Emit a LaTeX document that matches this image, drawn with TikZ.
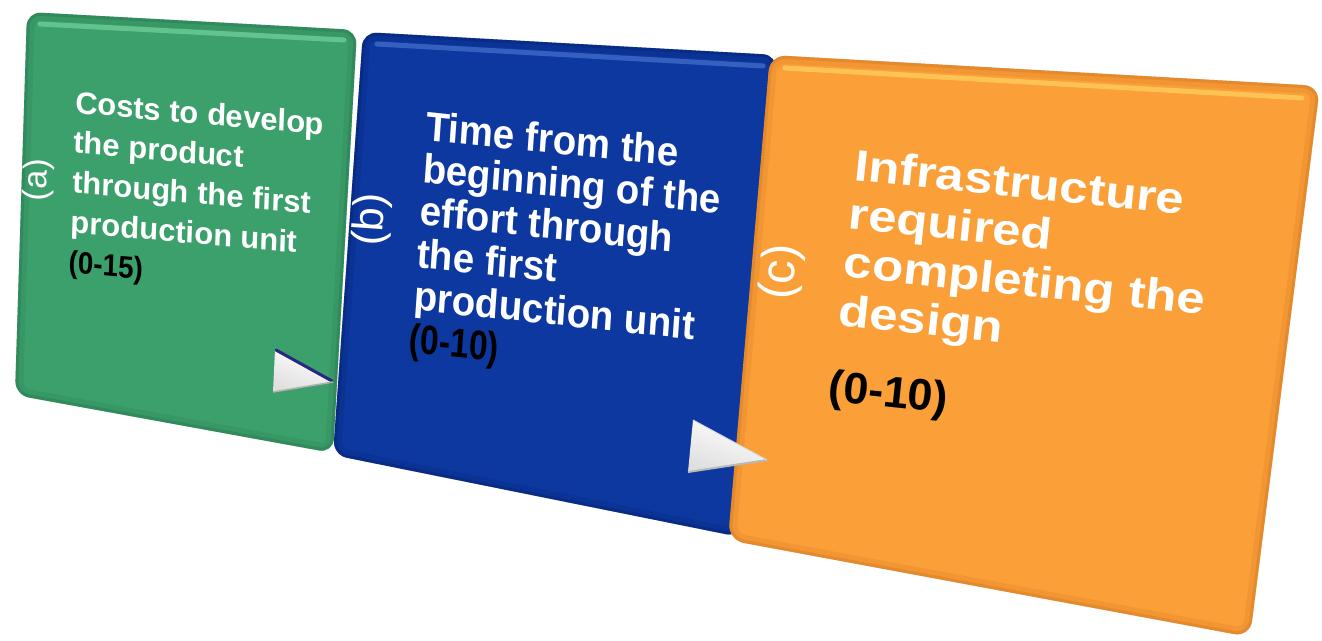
\documentclass[tikz,border=0pt]{standalone}
\usepackage{fontspec}
\setmainfont{Liberation Sans}
\definecolor{pgreen}{RGB}{60,160,108}
\definecolor{pgreenD}{RGB}{30,100,66}
\definecolor{pgreenL}{RGB}{130,225,170}
\definecolor{pblue}{RGB}{12,56,160}
\definecolor{pblueD}{RGB}{4,26,90}
\definecolor{pblueL}{RGB}{90,130,220}
\definecolor{porange}{RGB}{251,159,56}
\definecolor{porangeD}{RGB}{190,105,25}
\definecolor{porangeL}{RGB}{255,225,110}
\definecolor{navy}{RGB}{40,40,130}
\begin{document}
\begin{tikzpicture}[x=1pt,y=-1pt,
  every node/.style={inner sep=0pt, outer sep=0pt},
  hilite/.style={line width=5, line cap=round, opacity=0.55},
  txtline/.style={anchor=base west, transform shape, text=white,
    font=\fontsize{#1}{#1}\selectfont\bfseries},
  valtxt/.style={anchor=base west, transform shape, text=black,
    font=\fontsize{#1}{#1}\selectfont\bfseries},
  paneltag/.style={text=white, transform shape,
    font=\fontsize{#1}{#1}\selectfont},
  pointer/.style={top color=white, bottom color=gray!25, shading angle=-20}]
\useasboundingbox (0,0) rectangle (1322,640);

% a bevelled tile: shadow, face, soft dark rim
% #1 saved outline, #2 face, #3 rim colour
\newcommand\tile[3]{%
  \fill[black, opacity=0.08, shift={(3,5)}, use path=#1];
  \fill[black, opacity=0.08, shift={(1.5,2.5)}, use path=#1];
  \fill[#2, use path=#1];
  \begin{scope}
    \path[use path=#1, clip];
    \draw[#3, opacity=0.15, line width=16, use path=#1];
    \draw[#3, opacity=0.25, line width=6, use path=#1];
  \end{scope}}

% --- panel (a): green ---
\path[rounded corners=14, save path=\pathA] (27,12) -- (357,30) -- (333,453) -- (15,395) -- cycle;
\tile{\pathA}{pgreen}{pgreenD}
\draw[hilite, pgreenL] (40,24) -- (344,40);
\begin{scope}[shift={(75,113)}, cm={0.9962,-0.0872,0.0349,0.9994,(0,0)}]
  \node[txtline=31] (a1) at (0,0) {Costs to develop};
  \node[txtline=31] (a2) at (0,40) {the product};
  \node[txtline=31] (a3) at (0,80) {through the first};
  \node[txtline=31] (a4) at (0,120) {production unit};
  \node[valtxt=31] (a5) at (-1,160) {\scalebox{0.9}[1]{(0-15)}};
\end{scope}
\node[paneltag=34, rotate=88] (ta) at (38,180) {(a)};

% --- panel (b): blue ---
\path[rounded corners=14, save path=\pathB] (363,32) -- (777,55) -- (740,537) -- (333,455) -- cycle;
\tile{\pathB}{pblue}{pblueD}
\draw[hilite, pblueL] (377,44) -- (763,66);
\begin{scope}[shift={(425,140)}, cm={0.9349,-0.0983,0.0698,0.9976,(0,0)}]
  \node[txtline=41] (b1) at (0,0) {Time from the};
  \node[txtline=41] (b2) at (0,42.6) {beginning of the};
  \node[txtline=41] (b3) at (0,85.2) {effort through};
  \node[txtline=41] (b4) at (0,127.8) {the first};
  \node[txtline=41] (b5) at (0,170.4) {production unit};
  \node[valtxt=41] (b6) at (-2,213) {\scalebox{0.88}[1]{(0-10)}};
\end{scope}
\node[paneltag=43, rotate=86] (tb) at (372,220) {(b)};

% --- panel (c): orange ---
\path[rounded corners=16, save path=\pathC] (770,55) -- (1320,86) -- (1250,637) -- (728,540) -- cycle;
\tile{\pathC}{porange}{porangeD}
\draw[hilite, porangeL] (785,68) -- (1302,98);
\begin{scope}[shift={(853,180)}, cm={1.1536,-0.1213,0.1045,0.9945,(0,0)}]
  \node[txtline=44] (c1) at (0,0) {Infrastructure};
  \node[txtline=44] (c2) at (0,48.7) {required};
  \node[txtline=44] (c3) at (0,97.4) {completing the};
  \node[txtline=44] (c4) at (0,146.1) {design};
  \node[valtxt=44] (c5) at (-2,222) {\scalebox{0.88}[1]{(0-10)}};
\end{scope}
\node[paneltag=48, rotate=85] (tc) at (782,272) {(c)};

% --- pointers between panels ---
\shade[pointer] (275,350) -- (333,382) -- (273,392) -- cycle;
\draw[navy, line width=3, line cap=round] (276,350) -- (332,381);
\draw[gray!60, line width=1.5] (273,392) -- (333,382);
\shade[pointer] (693,420) -- (767,460) -- (688,472) -- cycle;
\draw[gray!55, line width=2] (688,472) -- (767,460);
\draw[gray!30, line width=1] (693,420) -- (767,460);
\end{tikzpicture}
\end{document}
